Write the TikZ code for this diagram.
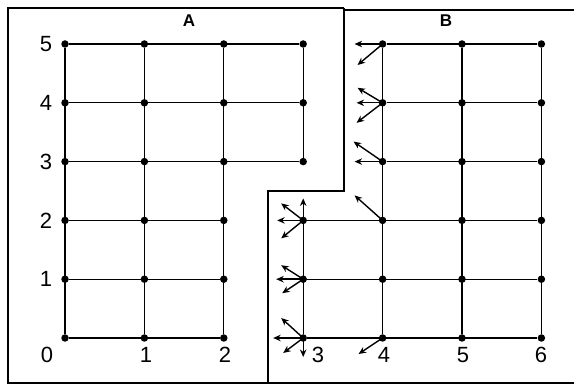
\documentclass[tikz,border=0pt]{standalone}
\usepackage{fontspec}
\setmainfont{Liberation Sans}
\usetikzlibrary{arrows.meta}
\begin{document}
\begin{tikzpicture}[x=1pt,y=-1pt,
  dot/.style={circle,fill=black,inner sep=0pt,minimum size=7.5pt},
  gridline/.style={line width=1.2pt},
  border/.style={line width=2.6pt,line join=miter},
  arr/.style={line width=1.4pt,-{Stealth[length=7.5pt,width=6.5pt]}},
  lbl/.style={font=\fontsize{22}{22}\selectfont,inner sep=0pt},
  ttl/.style={font=\fontsize{17}{17}\selectfont\bfseries,inner sep=0pt}]
\useasboundingbox[fill=white] (0,0) rectangle (574,387);
% borders
\draw[border] (574,10) -- (344,10);
\draw[border] (344,8) -- (8,8) -- (8,383) -- (574,383);
\draw[border] (344,8) -- (344,191) -- (268,191) -- (268,383);
% points
\foreach \c in {0,...,6}{
  \foreach \r in {0,...,5}{
    \node[dot] (p-\c-\r) at ({65+79.4*\c},{338-58.8*\r}) {};
  }
}
% A grid
\foreach \r in {0,1,2}{\draw[gridline] (p-0-\r) -- (p-2-\r);}
\foreach \r in {3,4,5}{\draw[gridline] (p-0-\r) -- (p-3-\r);}
\foreach \c in {0,1,2}{\draw[gridline] (p-\c-0) -- (p-\c-5);}
\draw[gridline] (p-3-3) -- (p-3-5);
% B grid
\foreach \r in {0,1,2}{\draw[gridline] (p-3-\r) -- (p-6-\r);}
\foreach \r in {3,4,5}{\draw[gridline] (p-4-\r) -- (p-6-\r);}
\foreach \c in {4,5,6}{\draw[gridline] (p-\c-0) -- (p-\c-5);}
\draw[gridline] (p-3-0) -- (p-3-2);
% arrows
\foreach \dx/\dy in {-28/0,-25/21}{\draw[arr] (p-4-5.center) -- ++(\dx,\dy);}
\foreach \dx/\dy in {-25/-15,-26/0,-26/20}{\draw[arr] (p-4-4.center) -- ++(\dx,\dy);}
\foreach \dx/\dy in {-29/-20,-28/0}{\draw[arr] (p-4-3.center) -- ++(\dx,\dy);}
\draw[arr] (p-4-2.center) -- ++(-28,-25);
\foreach \dx/\dy in {0/-22,-26/0,-22/-17,-22/18}{\draw[arr] (p-3-2.center) -- ++(\dx,\dy);}
\foreach \dx/\dy in {-27/0,-22/-14,-21/14}{\draw[arr] (p-3-1.center) -- ++(\dx,\dy);}
\foreach \dx/\dy in {-30/0,-22/-20,-20/15,0/19}{\draw[arr] (p-3-0.center) -- ++(\dx,\dy);}
\draw[arr] (p-4-0.center) -- ++(-24,16);
% labels
\node[ttl] (tA) at (189,21) {A};
\node[ttl] (tB) at (446,21) {B};
\foreach \r in {1,...,5}{\node[lbl] (r\r) at (46,{338-58.8*\r}) {\r};}
\node[lbl] (c0) at (47,355) {0};
\node[lbl] (c1) at (146,355) {1};
\node[lbl] (c2) at (225,355) {2};
\node[lbl] (c3) at (318,355) {3};
\node[lbl] (c4) at (384,355) {4};
\node[lbl] (c5) at (463,355) {5};
\node[lbl] (c6) at (541,355) {6};
\end{tikzpicture}
\end{document}
